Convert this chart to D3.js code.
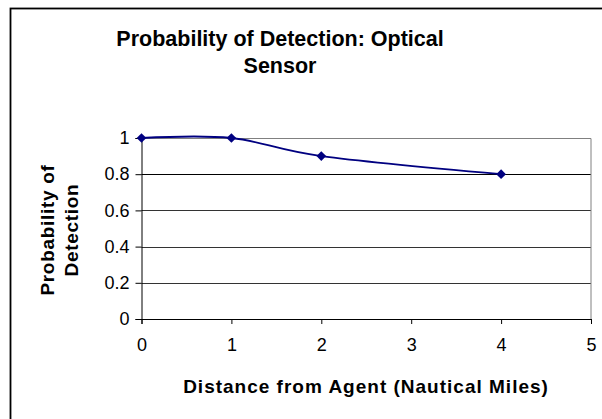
<!DOCTYPE html>
<html>
<head>
<meta charset="utf-8">
<script src="https://cdn.jsdelivr.net/npm/d3@7"></script>
<style>
  body { margin: 0; background: #fff; }
  text { font-family: Arial, "Liberation Sans", sans-serif; fill: #000; }
</style>
</head>
<body>
<div class="chart"></div>
<script>
const svgWidth = 602;
const svgHeight = 419;

// data
const distances = [0, 1, 2, 4];
const probabilities = [1, 1, 0.9, 0.8];
const xTicks = [0, 1, 2, 3, 4, 5];
const yTicks = [0, 0.2, 0.4, 0.6, 0.8, 1];
const titleLines = ['Probability of Detection: Optical', 'Sensor'];
const yLabelLines = ['Probability of', 'Detection'];
const xLabel = 'Distance from Agent (Nautical Miles)';

const margin = { top: 138, right: 11, bottom: 100, left: 141.5 };
const width = svgWidth - margin.left - margin.right;
const height = svgHeight - margin.top - margin.bottom;

const svg = d3.select('.chart')
  .append('svg')
  .attr('width', svgWidth)
  .attr('height', svgHeight);

// outer chart border
svg.append('rect')
  .attr('x', 10.5)
  .attr('y', 8.5)
  .attr('width', 600)
  .attr('height', 420)
  .attr('fill', '#fff')
  .attr('stroke', '#000')
  .attr('stroke-width', 1.8);

const chartGroup = svg.append('g')
  .attr('transform', `translate(${margin.left}, ${margin.top})`);

const xScale = d3.scaleLinear().domain([0, 5]).range([0, width]);
const yScale = d3.scaleLinear().domain([0, 1]).range([height, 0]);

// gridlines
chartGroup.selectAll('.grid')
  .data(yTicks.filter(d => d > 0 && d < 1))
  .enter()
  .append('line')
  .attr('x1', 0)
  .attr('x2', width)
  .attr('y1', d => Math.round(yScale(d)) + 0.5)
  .attr('y2', d => Math.round(yScale(d)) + 0.5)
  .attr('stroke', d => d === 0.8 ? '#000' : '#333')
  .attr('stroke-width', 1);

// plot area border (grey, top and right)
chartGroup.append('path')
  .attr('d', `M0,0.5H${width}V${height}`)
  .attr('fill', 'none')
  .attr('stroke', '#808080')
  .attr('stroke-width', 1);

// axes
const bottomAxis = d3.axisBottom(xScale).tickValues(xTicks).tickSize(5).tickPadding(14)
  .tickFormat(d3.format('d'));
const leftAxis = d3.axisLeft(yScale).tickValues(yTicks).tickSize(6).tickPadding(6)
  .tickFormat(d => d === 0 || d === 1 ? d3.format('d')(d) : d3.format('.1f')(d));

const xAxisG = chartGroup.append('g')
  .attr('transform', `translate(0, ${height})`)
  .call(bottomAxis);
const yAxisG = chartGroup.append('g')
  .call(leftAxis);

[xAxisG, yAxisG].forEach(g => {
  g.attr('font-size', 18).attr('font-family', 'Arial, "Liberation Sans", sans-serif');
  g.select('.domain').attr('stroke', '#000');
  g.selectAll('.tick line').attr('stroke', '#000');
  g.selectAll('.tick text').attr('fill', '#000');
});

// smoothed line
const line = d3.line()
  .x(d => xScale(d[0]))
  .y(d => yScale(d[1]))
  .curve(d3.curveCardinal.tension(0));

const points = distances.map((d, i) => [d, probabilities[i]]);

chartGroup.append('path')
  .datum(points)
  .attr('d', line)
  .attr('fill', 'none')
  .attr('stroke', '#000080')
  .attr('stroke-width', 1.8);

// diamond markers
chartGroup.selectAll('.marker')
  .data(points)
  .enter()
  .append('path')
  .attr('d', d3.symbol().type(d3.symbolDiamond2).size(60))
  .attr('transform', d => `translate(${xScale(d[0])}, ${yScale(d[1])})`)
  .attr('fill', '#000080');

// title
svg.append('text')
  .attr('x', 280)
  .attr('y', 46)
  .attr('text-anchor', 'middle')
  .style('font-size', '21.5px')
  .style('font-weight', 'bold')
  .selectAll('tspan')
  .data(titleLines)
  .enter()
  .append('tspan')
  .attr('x', 280)
  .attr('dy', (d, i) => i === 0 ? 0 : 27)
  .text(d => d);

// y axis label
svg.append('text')
  .attr('transform', 'translate(54, 230) rotate(-90)')
  .attr('text-anchor', 'middle')
  .style('font-size', '19px')
  .style('font-weight', 'bold')
  .style('letter-spacing', '0.7px')
  .selectAll('tspan')
  .data(yLabelLines)
  .enter()
  .append('tspan')
  .attr('x', 0)
  .attr('dy', (d, i) => i === 0 ? 0 : 24)
  .text(d => d);

// x axis label
svg.append('text')
  .attr('x', 366)
  .attr('y', 393)
  .attr('text-anchor', 'middle')
  .style('font-size', '19px')
  .style('font-weight', 'bold')
  .style('letter-spacing', '1px')
  .text(xLabel);
</script>
</body>
</html>
